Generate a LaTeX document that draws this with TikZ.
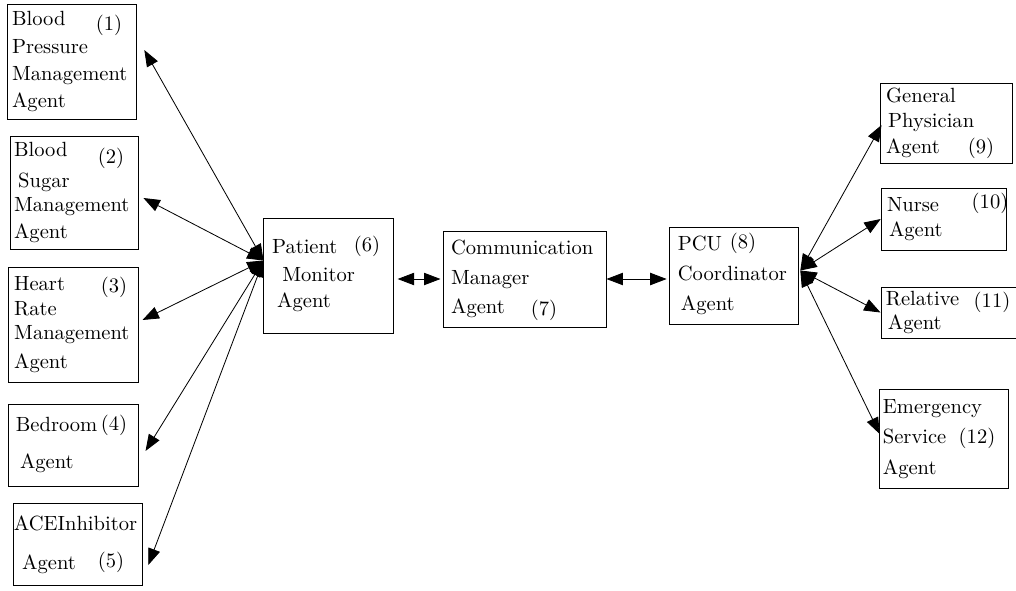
\documentclass[tikz,border=0pt]{standalone}
\usetikzlibrary{arrows.meta}
\begin{document}
\begin{tikzpicture}[x=0.0171cm,y=-0.0171cm,
    agent/.style={draw,inner sep=0pt,align=left},
    num/.style={inner sep=0pt},
    link/.style={{Triangle[length=8pt,width=6pt]}-{Triangle[length=8pt,width=6pt]}}]
  \useasboundingbox (0,0) rectangle (1016,590);
  \node[agent,minimum width=2.22cm,minimum height=1.97cm,text width=2.05cm] (bp) at (72,61.5)
    {Blood\\[1.5pt]Pressure\\[1pt]Management\\[1pt]Agent};
  \node[agent,minimum width=2.19cm,minimum height=1.93cm,text width=2.05cm] (bs) at (74,192.5)
    {Blood\\[3pt]\hspace*{2pt}Sugar\\Management\\[1pt]Agent};
  \node[agent,minimum width=2.21cm,minimum height=1.97cm,text width=2.03cm] (hr) at (73.5,324.5)
    {Heart\\Rate\\Management\\[2pt]Agent};
  \node[agent,minimum width=2.21cm,minimum height=1.40cm,text width=1.97cm] (bed) at (73.5,445)
    {Bedroom\\[6pt]\hspace*{2pt}Agent};
  \node[agent,minimum width=2.22cm,minimum height=1.39cm,text width=2.19cm] (ace) at (78,544.5)
    {ACEInhibitor\\[7pt]\hspace*{4pt}Agent};
  \node[agent,minimum width=2.21cm,minimum height=1.97cm,text width=1.93cm] (pm) at (328.5,275.5)
    {Patient\\[2pt]\hspace*{5pt}Monitor\\[0.5pt]\hspace*{2.5pt}Agent};
  \node[agent,minimum width=2.79cm,minimum height=1.64cm,text width=2.51cm] (cm) at (524.5,279)
    {Communication\\[2.5pt]Manager\\[2pt]Agent};
  \node[agent,minimum width=2.22cm,minimum height=1.66cm,text width=1.92cm] (pcu) at (734,275.5)
    {PCU\\[2.5pt]Coordinator\\[3pt]\hspace*{1.5pt}Agent};
  \node[agent,minimum width=2.26cm,minimum height=1.37cm,text width=2.05cm] (gp) at (946,123)
    {General\\\hspace*{1pt}Physician\\[0.5pt]Agent};
  \node[agent,minimum width=2.15cm,minimum height=1.06cm,text width=1.95cm] (nu) at (944,219)
    {Nurse\\\hspace*{1pt}Agent};
  \node[agent,minimum width=2.38cm,minimum height=0.87cm,text width=2.21cm] (rel) at (950.5,312.5)
    {Relative\\\hspace*{1pt}Agent};
  \node[agent,minimum width=2.22cm,minimum height=1.68cm,text width=2.09cm] (em) at (944,439)
    {Emergency\\[3pt]Service\\[3pt]Agent};
  \node[num] (n1) at (109,25) {(1)};
  \node[num] (n2) at (111,158) {(2)};
  \node[num] (n3) at (114,287) {(3)};
  \node[num] (n4) at (114,425) {(4)};
  \node[num] (n5) at (111,562) {(5)};
  \node[num] (n6) at (367,246) {(6)};
  \node[num] (n7) at (544,310) {(7)};
  \node[num] (n8) at (743,243) {(8)};
  \node[num] (n9) at (981,148) {(9)};
  \node[num] (n10) at (990,203) {(10)};
  \node[num] (n11) at (992,302) {(11)};
  \node[num] (n12) at (977,438) {(12)};
  \coordinate (hubL) at ([shift={(0,-15)}]pm.west);
  \coordinate (hubR) at ([shift={(1,-5)}]pcu.east);
  \draw[link] (hubL) -- ([shift={(7,-11.5)}]bp.east);
  \draw[link] (hubL) -- ([shift={(5,5.5)}]bs.east);
  \draw[link] (hubL) -- ([shift={(4,-4.5)}]hr.east);
  \draw[link] (hubL) -- ([shift={(7,6)}]bed.east);
  \draw[link] (hubL) -- ([shift={(5,20.5)}]ace.east);
  \draw[link,shorten <=2pt,shorten >=1pt] (pm.east |- cm.west) -- (cm.west);
  \draw[link,shorten >=1pt] (cm.east) -- (cm.east -| pcu.west);
  \draw[link] (hubR) -- ([shift={(2,2)}]gp.west);
  \draw[link] (hubR) -- (nu.west);
  \draw[link] (hubR) -- (rel.west);
  \draw[link] (hubR) -- ([shift={(1,-5)}]em.west);
\end{tikzpicture}
\end{document}
